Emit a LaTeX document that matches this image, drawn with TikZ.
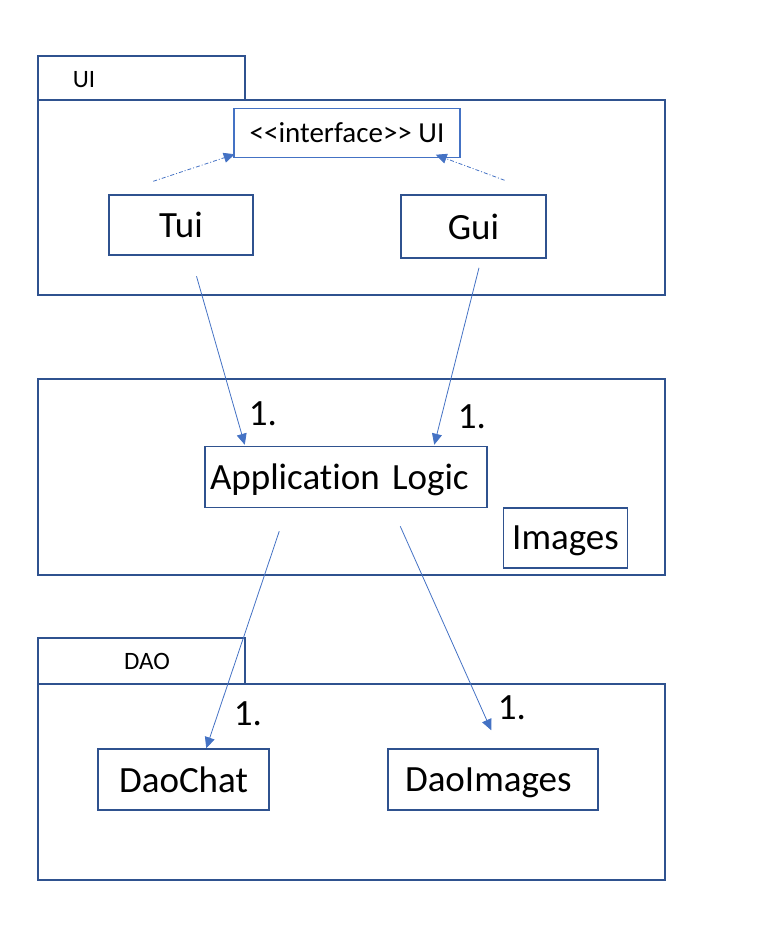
\documentclass[tikz,border=0pt]{standalone}
\usepackage{fontspec}
\setmainfont{Carlito}[Ligatures={NoCommon}]
\usetikzlibrary{arrows.meta,calc}
\definecolor{boxblue}{HTML}{2F528F}
\definecolor{lineblue}{HTML}{4472C4}
\begin{document}
\begin{tikzpicture}[x=1pt,y=-1pt,
		pkgbox/.style={draw=boxblue,line width=1.5pt},
		classbox/.style={draw=boxblue,line width=1.5pt,inner sep=0pt,text depth=0pt,font=\fontsize{37}{44}\selectfont},
		tablabel/.style={font=\fontsize{25}{30}\selectfont},
		uses/.style={draw=lineblue,line width=0.8pt,-{Triangle[width=10pt,length=11pt]}},
		realizes/.style={uses,dash pattern=on 4pt off 2pt on 1pt off 2pt},
		mult/.style={font=\fontsize{37}{44}\selectfont}]
	\useasboundingbox (0,0) rectangle (764,948);

	% package UI
	\draw[pkgbox](38,56) rectangle (245,100);
	\draw[pkgbox](38,100) rectangle (665,295);
	\node[tablabel] (uitab) at (84,80) {UI};
		\node[classbox,draw=lineblue,minimum width=226,minimum height=49,font=\fontsize{29}{34}\selectfont] (iface) at (347,133) {{<}{<}interface{>}{>} UI};
		\node[classbox,minimum width=144,minimum height=60] (tui) at (181,225) {Tui};
		\node[classbox,minimum width=145,minimum height=63] (gui) at (473.5,226.5) {Gui};

	% logic package
	\draw[pkgbox](38,379) rectangle (665,575);
		\node[classbox,minimum width=282,minimum height=61,text width=272,align=left] (applogic) at (346,477) {Application Logic};
		\node[classbox,minimum width=124,minimum height=60] (images) at (565.5,538) {Images};

	% package DAO
	\draw[pkgbox](38,638) rectangle (245,684);
	\draw[pkgbox](38,684) rectangle (665,880);
	\node[tablabel] (daotab) at (147,661) {DAO};
		\node[classbox,minimum width=171,minimum height=61] (daochat) at (183.5,779.5) {DaoChat};
		\node[classbox,minimum width=210,minimum height=61,text width=176,align=left] (daoimages) at (493,779.5) {DaoImages};

	% realizations
	\draw[realizes]($(tui.north west)+(45,-13)$) -- ($(iface.south west)+(1.5,-4)$);
	\draw[realizes]($(gui.north)+(31,-14)$) -- ($(iface.south east)+(-25,-3.5)$);

	% dependencies
	\draw[uses]($(tui.south)+(15.5,20.5)$) -- ($(applogic.north west)+(40.5,-1)$);
	\node[mult] (m1) at (263,414) {1.};
	\draw[uses]($(gui.south)+(5.5,9)$) -- ($(applogic.north west)+(230,-1)$);
	\node[mult] (m2) at (472,416.5) {1.};
	\draw[uses]($(applogic.south west)+(75,23)$) -- ($(daochat.north west)+(109,0)$);
	\node[mult] (m3) at (248,714) {1.};
	\draw[uses]($(applogic.south west)+(196,18)$) -- ($(daoimages.north west)+(104,-18)$);
	\node[mult] (m4) at (512,707.5) {1.};
\end{tikzpicture}
\end{document}
